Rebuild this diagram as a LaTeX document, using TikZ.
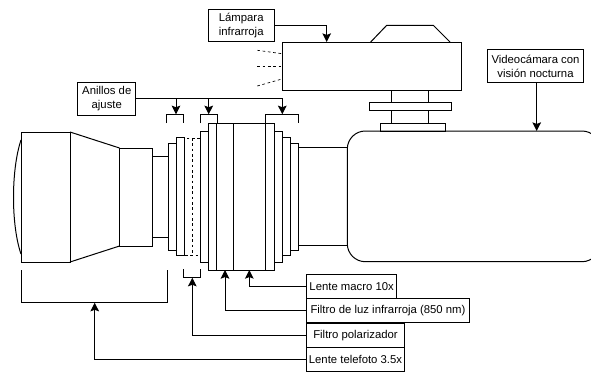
\documentclass[tikz,border=0pt]{standalone}
\usepackage{fontspec}
\setmainfont{Liberation Sans}
\usetikzlibrary{arrows.meta}
\tikzset{every picture/.style={line width=0.75pt}}
\tikzset{labelbox/.style={draw,inner sep=0pt,align=center,font=\fontsize{8.5}{10.5}\selectfont}}
\tikzset{arrowline/.style={-{Stealth[length=6.5pt,width=6.5pt,inset=1.2pt]}}}
\tikzset{dashline/.style={dash pattern=on 2pt off 2pt,line width=0.5pt}}

\begin{document}
\begin{tikzpicture}[x=0.75pt,y=0.75pt,yscale=-1,xscale=1]
\clip (0,0) rectangle (591,372);

%Shape: Telephoto lens
\draw (21,140) .. controls (11,170) and (11,225) .. (21,254) ;
\draw (21,132) rectangle (70,262) ;
\draw (70,132) -- (119.5,148) ;
\draw (70,262) -- (119.5,246) ;
\draw (119.5,148) rectangle (152,246) ;
\draw (152,156) rectangle (168,237) ;

%Shape: Rings, left side
\draw (168,143.3) rectangle (176,250) ;
\draw (176,137.7) rectangle (184.7,255.7) ;

%Shape: Polarizing filter
\draw [dashline] (184.7,138) rectangle (200.7,255) ;
\draw [dashline] (192.3,138) -- (192.3,255) ;

%Shape: Macro lens and infrared filter
\draw (200.7,131.7) rectangle (208.7,262) ;
\draw (208.7,123.3) rectangle (274,270) ;
\draw (216.7,123.3) -- (216.7,270) ;
\draw (233.3,123.3) -- (233.3,270) ;
\draw (265.7,123.3) -- (265.7,270) ;

%Shape: Rings, right side
\draw (274,131.7) rectangle (282.3,262) ;
\draw (282.3,137.7) rectangle (290,255.7) ;
\draw (290,143.3) rectangle (298.7,250) ;
\draw (298.7,147.7) rectangle (347.3,245.7) ;

%Shape: Video camera
\draw [rounded corners=13.5pt,fill=white] (347.3,131) rectangle (600,261.7) ;
\draw (380,123.3) rectangle (445.3,131) ;
\draw (391.7,110.7) rectangle (428.7,123.3) ;
\draw (369.3,102.3) rectangle (451.3,110.7) ;
\draw (391.7,90.7) rectangle (428.7,102.3) ;

%Shape: Infrared lamp
\draw (282,42) rectangle (461.3,90.7) ;
\draw (370.7,42) -- (386.7,25.3) -- (433.3,25.3) -- (450,42) ;
\draw [dashline] (257.3,50.3) -- (282,53.7) ;
\draw [dashline] (257.3,66) -- (282,66) ;
\draw [dashline] (257.3,86) -- (282,79) ;

%Straight Lines: brackets
\draw (166.7,123) -- (166.7,114.3) -- (183.3,114.3) -- (183.3,123) ;
\draw (200.7,123) -- (200.7,114.3) -- (217.5,114.3) -- (217.5,123) ;
\draw (265.7,123) -- (265.7,114.3) -- (298.7,114.3) -- (298.7,123) ;
\draw (183.3,269.3) -- (183.3,277.7) -- (200.7,277.7) -- (200.7,269.3) ;
\draw (21.3,270) -- (21.3,302.7) -- (167.3,302.7) -- (167.3,270) ;

% Text Node
\node (anillos) [labelbox,minimum width=43.3pt,minimum height=24.5pt] at (106.8,98.8) {Anillos de\\ajuste};
% Text Node
\node (lampara) [labelbox,minimum width=49.3pt,minimum height=24.5pt] at (241.2,25.6) {Lámpara\\infrarroja};
% Text Node
\node (videocamara) [labelbox,minimum width=71.7pt,minimum height=24.5pt] at (535.5,66.3) {Videocámara con\\visión nocturna};
% Text Node
\node (macro) [labelbox,minimum width=67.5pt,minimum height=18.2pt] at (351.7,286.2) {Lente macro 10x};
% Text Node
\node (infrarrojo) [labelbox,minimum width=122pt,minimum height=18.2pt] at (388,310.8) {Filtro de luz infrarroja (850 nm)};
% Text Node
\node (polarizador) [labelbox,minimum width=73.2pt,minimum height=18.2pt] at (355.5,335.5) {Filtro polarizador};
% Text Node
\node (telefoto) [labelbox,minimum width=73.2pt,minimum height=18pt] at (355.5,359.7) {Lente telefoto 3.5x};

\coordinate (ringleft) at (176,114.3);
\coordinate (ringmid) at (208.7,114.3);
\coordinate (ringright) at (282.3,114.3);
\coordinate (lamptop) at (326.7,42);
\coordinate (cameratop) at (536.7,131);
\coordinate (macroend) at (249.3,270);
\coordinate (infrarrojoend) at (225,270);
\coordinate (polarizadorend) at (192.3,277.7);
\coordinate (telefotoend) at (94.7,302.7);

%Straight Lines
\draw [arrowline] (anillos.east) -| (ringleft) ;
\draw [arrowline] (anillos.east) -| (ringmid) ;
\draw [arrowline] (anillos.east) -| (ringright) ;
\draw [arrowline] (lampara.east) -| (lamptop) ;
\draw [arrowline] (videocamara.south -| cameratop) -- (cameratop) ;
\draw [arrowline] (macro.west) -| (macroend) ;
\draw [arrowline] (infrarrojo.west) -| (infrarrojoend) ;
\draw [arrowline] (polarizador.west) -| (polarizadorend) ;
\draw [arrowline] (telefoto.west) -| (telefotoend) ;

\end{tikzpicture}
\end{document}
